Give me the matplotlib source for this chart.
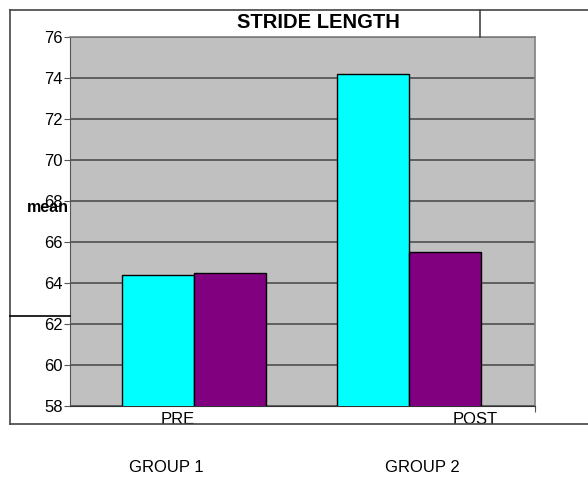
import numpy as np
import matplotlib
matplotlib.use('Agg')
import matplotlib.pyplot as plt
from matplotlib.lines import Line2D

plt.rcParams['font.family'] = ['Liberation Sans', 'DejaVu Sans']

# datos
grupos = ['GROUP 1', 'GROUP 2']
etiquetas_x = ['PRE', 'POST']
pre = [64.4, 74.2]
post = [64.5, 65.5]
y_ticks = [58, 60, 62, 64, 66, 68, 70, 72, 74, 76]

W, H = 588, 480
fig = plt.figure(figsize=(W/100, H/100), dpi=100)
fig.patch.set_facecolor('white')

# area del grafico en pixeles
x0, x1, ytop, ybot = 70, 535, 37, 406
ax = fig.add_axes([x0/W, 1-ybot/H, (x1-x0)/W, (ybot-ytop)/H])
ax.set_facecolor('#c0c0c0')

x = np.arange(len(grupos))
ancho = 0.335
ax.bar(x - ancho/2, pre, ancho, color='#00ffff', edgecolor='black', linewidth=1, zorder=3)
ax.bar(x + ancho/2, post, ancho, color='#800080', edgecolor='black', linewidth=1, zorder=3)

ax.set_xlim(-0.579, 1.584)
ax.set_ylim(58, 76)
ax.set_yticks(y_ticks)
ax.set_yticklabels([str(v) for v in y_ticks], fontsize=12)
ax.yaxis.grid(True, color='#454545', linewidth=1.1, zorder=1)
ax.tick_params(axis='y', length=4, width=0.8, color='#555555', pad=1)
ax.set_xticks([1.584])
ax.set_xticklabels([])
ax.tick_params(axis='x', length=4, width=0.8, color='#555555')

for lado in ['top', 'right']:
    ax.spines[lado].set_color('#808080')
    ax.spines[lado].set_linewidth(1.2)
ax.spines['left'].set_color('#555555')
ax.spines['bottom'].set_color('#333333')

# etiquetas del eje x (desplazadas como en el original)
for xi, lab in zip([-0.077, 1.305], etiquetas_x):
    ax.annotate(lab, (xi, 58), xytext=(0, -4.5), textcoords='offset points',
                ha='center', va='top', fontsize=12, annotation_clip=False)

# marco exterior
def linea(xa, ya, xb, yb, lw=1.2, c='#444444'):
    fig.add_artist(Line2D([xa/W, xb/W], [1-ya/H, 1-yb/H], color=c, linewidth=lw,
                          transform=fig.transFigure, zorder=10))

linea(10, 10, 600, 10)
linea(10, 10, 10, 424)
linea(10, 424, 600, 424)
linea(480, 10, 480, ytop)
linea(10, 316, x0, 316, c='black')

# tapar la parte baja de PRE/POST cortadas por el marco
fig.patches.append(plt.Rectangle((10/W, 0), 1, 1-424.5/H, transform=fig.transFigure,
                                 facecolor='white', edgecolor='none', zorder=9))

fig.text(318/W, 1-23/H, 'STRIDE LENGTH', ha='center', va='center', fontsize=14.5, fontweight='bold')
fig.text(27/W, 1-208/H, 'mean', ha='left', va='center', fontsize=11.5, fontweight='bold')

for xp, g in zip([166, 422], grupos):
    fig.text(xp/W, 1-468/H, g, ha='center', va='center', fontsize=12, zorder=11)

fig.savefig('out.png', dpi=100)
